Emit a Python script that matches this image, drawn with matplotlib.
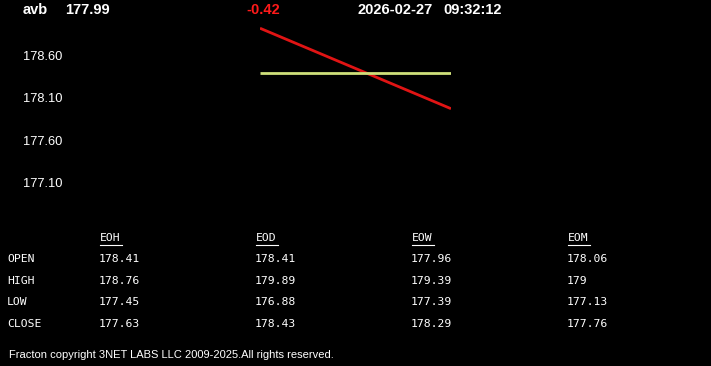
import matplotlib
matplotlib.use("Agg")
import matplotlib.pyplot as plt
from matplotlib.transforms import blended_transform_factory

# header info
symbol = "avb"
last_price = "177.99"
change = "-0.42"
date_str = "2026-02-27"
time_str = "09:32:12"

# chart series (start / end)
price_x = [0, 1]
price_y = [178.94, 177.99]
open_y = [178.41, 178.41]
yticks = [178.60, 178.10, 177.60, 177.10]

# table
row_labels = ["OPEN", "HIGH", "LOW", "CLOSE"]
col_labels = ["EOH", "EOD", "EOW", "EOM"]
table_vals = [
    ["178.41", "178.41", "177.96", "178.06"],
    ["178.76", "179.89", "179.39", "179"],
    ["177.45", "176.88", "177.39", "177.13"],
    ["177.63", "178.43", "178.29", "177.76"],
]
footer = "Fracton copyright 3NET LABS LLC 2009-2025.All rights reserved."

W, H = 711, 366
fig = plt.figure(figsize=(W / 100, H / 100), dpi=100, facecolor="black")

def fx(px):
    return px / W

def fy(py):
    return 1 - py / H

# axes covers pixel x 260..451, y 20..200
ax = fig.add_axes([fx(260), fy(200), fx(451) - fx(260), (200 - 20) / H])
ax.set_facecolor("black")
ax.plot(price_x, price_y, color="#e01414", lw=2, solid_capstyle="butt")
ax.plot(price_x, open_y, color="#cfe07a", lw=2, solid_capstyle="butt")
ax.set_xlim(0, 1)
ax.set_ylim(176.912, 179.037)
ax.axis("off")

trans = blended_transform_factory(fig.transFigure, ax.transData)
for v in yticks:
    ax.text(fx(23), v, "%.2f" % v, transform=trans, color="white",
            fontsize=9.3, family="Liberation Sans", va="center", ha="left")

# header
hdr = dict(fontsize=10.5, family="Liberation Sans", weight="bold", va="center", ha="left")
fig.text(fx(23), fy(10), symbol, color="white", **hdr)
fig.text(fx(65), fy(10), last_price, color="white", **hdr)
fig.text(fx(246), fy(10), change, color="#ff1a1a", **hdr)
fig.text(fx(357), fy(10), date_str, color="white", **hdr)
fig.text(fx(443), fy(10), time_str, color="white", **hdr)

# table
mono = dict(fontsize=8.2, family="DejaVu Sans Mono", color="white", va="center", ha="left")
col_x = [99, 255, 411, 567]
row_y = [259, 281, 302, 324]
for cx, lab in zip(col_x, col_labels):
    fig.text(fx(cx + 1), fy(238), lab, **mono)
    fig.lines.append(plt.Line2D([fx(cx + 1), fx(cx + 1 + 22)], [fy(244.5), fy(244.5)],
                                transform=fig.transFigure, color="white", lw=0.8))
for ry, lab, vals in zip(row_y, row_labels, table_vals):
    fig.text(fx(7), fy(ry), lab, **mono)
    for cx, v in zip(col_x, vals):
        fig.text(fx(cx), fy(ry), v, **mono)

fig.text(fx(9), fy(355), footer, color="white", fontsize=8,
         family="Liberation Sans", va="center", ha="left")

fig.savefig("out.png", dpi=100, facecolor="black")
